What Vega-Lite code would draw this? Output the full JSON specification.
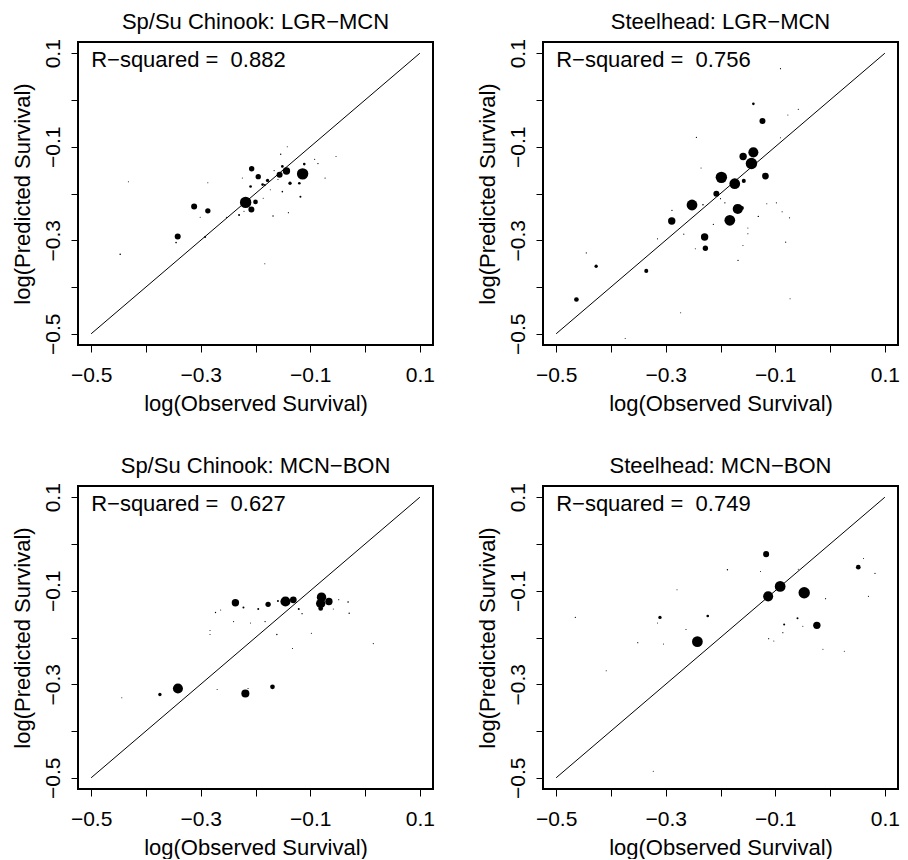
{
  "$schema": "https://vega.github.io/schema/vega-lite/v6.json",
  "background": "white",
  "padding": {"left": 10, "top": 9, "right": 0, "bottom": 0},
  "datasets": {
    "diag": [{"obs": -0.5, "pred": -0.5}, {"obs": 0.1, "pred": 0.1}],
    "p1": [
      {"obs": -0.114, "pred": -0.158, "w": 1.0},
      {"obs": -0.218, "pred": -0.219, "w": 1.0},
      {"obs": -0.1435, "pred": -0.152, "w": 0.42},
      {"obs": -0.156, "pred": -0.160, "w": 0.28},
      {"obs": -0.207, "pred": -0.147, "w": 0.22},
      {"obs": -0.195, "pred": -0.164, "w": 0.22},
      {"obs": -0.200, "pred": -0.218, "w": 0.17},
      {"obs": -0.2075, "pred": -0.234, "w": 0.28},
      {"obs": -0.312, "pred": -0.228, "w": 0.28},
      {"obs": -0.287, "pred": -0.237, "w": 0.22},
      {"obs": -0.342, "pred": -0.292, "w": 0.28},
      {"obs": -0.137, "pred": -0.178, "w": 0.087},
      {"obs": -0.120, "pred": -0.178, "w": 0.055},
      {"obs": -0.111, "pred": -0.137, "w": 0.055},
      {"obs": -0.151, "pred": -0.142, "w": 0.055},
      {"obs": -0.178, "pred": -0.172, "w": 0.087},
      {"obs": -0.187, "pred": -0.181, "w": 0.055},
      {"obs": -0.183, "pred": -0.182, "w": 0.031},
      {"obs": -0.209, "pred": -0.185, "w": 0.055},
      {"obs": -0.118, "pred": -0.207, "w": 0.031},
      {"obs": -0.151, "pred": -0.196, "w": 0.02},
      {"obs": -0.230, "pred": -0.246, "w": 0.031},
      {"obs": -0.292, "pred": -0.293, "w": 0.031},
      {"obs": -0.447, "pred": -0.330, "w": 0.02},
      {"obs": -0.345, "pred": -0.305, "w": 0.02},
      {"obs": -0.154, "pred": -0.116, "w": 0.015},
      {"obs": -0.086, "pred": -0.136, "w": 0.015},
      {"obs": -0.092, "pred": -0.127, "w": 0.01},
      {"obs": -0.142, "pred": -0.100, "w": 0.008},
      {"obs": -0.053, "pred": -0.121, "w": 0.008},
      {"obs": -0.073, "pred": -0.167, "w": 0.01},
      {"obs": -0.432, "pred": -0.175, "w": 0.008},
      {"obs": -0.287, "pred": -0.177, "w": 0.008},
      {"obs": -0.168, "pred": -0.248, "w": 0.015},
      {"obs": -0.140, "pred": -0.241, "w": 0.01},
      {"obs": -0.183, "pred": -0.350, "w": 0.008},
      {"obs": -0.301, "pred": -0.251, "w": 0.008},
      {"obs": -0.253, "pred": -0.251, "w": 0.01},
      {"obs": -0.224, "pred": -0.167, "w": 0.008},
      {"obs": -0.173, "pred": -0.192, "w": 0.008},
      {"obs": -0.159, "pred": -0.170, "w": 0.01},
      {"obs": -0.166, "pred": -0.151, "w": 0.01},
      {"obs": -0.186, "pred": -0.210, "w": 0.008},
      {"obs": -0.221, "pred": -0.238, "w": 0.01}
    ],
    "p2": [
      {"obs": -0.140, "pred": -0.112, "w": 0.78},
      {"obs": -0.1435, "pred": -0.136, "w": 1.0},
      {"obs": -0.1587, "pred": -0.121, "w": 0.42},
      {"obs": -0.1234, "pred": -0.045, "w": 0.28},
      {"obs": -0.1984, "pred": -0.1655, "w": 1.0},
      {"obs": -0.174, "pred": -0.179, "w": 0.89},
      {"obs": -0.118, "pred": -0.1626, "w": 0.35},
      {"obs": -0.1575, "pred": -0.173, "w": 0.125},
      {"obs": -0.2075, "pred": -0.2004, "w": 0.28},
      {"obs": -0.252, "pred": -0.2246, "w": 0.89},
      {"obs": -0.1685, "pred": -0.233, "w": 0.78},
      {"obs": -0.161, "pred": -0.231, "w": 0.125},
      {"obs": -0.183, "pred": -0.2573, "w": 0.89},
      {"obs": -0.289, "pred": -0.2587, "w": 0.42},
      {"obs": -0.229, "pred": -0.293, "w": 0.42},
      {"obs": -0.2276, "pred": -0.317, "w": 0.22},
      {"obs": -0.3355, "pred": -0.3655, "w": 0.125},
      {"obs": -0.427, "pred": -0.3555, "w": 0.087},
      {"obs": -0.463, "pred": -0.4267, "w": 0.17},
      {"obs": -0.140, "pred": -0.0082, "w": 0.055},
      {"obs": -0.0905, "pred": 0.067, "w": 0.01},
      {"obs": -0.058, "pred": -0.020, "w": 0.01},
      {"obs": -0.077, "pred": -0.032, "w": 0.008},
      {"obs": -0.0905, "pred": -0.081, "w": 0.008},
      {"obs": -0.244, "pred": -0.080, "w": 0.01},
      {"obs": -0.2355, "pred": -0.1456, "w": 0.008},
      {"obs": -0.1155, "pred": -0.222, "w": 0.008},
      {"obs": -0.098, "pred": -0.220, "w": 0.01},
      {"obs": -0.0875, "pred": -0.239, "w": 0.01},
      {"obs": -0.074, "pred": -0.252, "w": 0.01},
      {"obs": -0.131, "pred": -0.249, "w": 0.015},
      {"obs": -0.081, "pred": -0.304, "w": 0.01},
      {"obs": -0.073, "pred": -0.425, "w": 0.008},
      {"obs": -0.150, "pred": -0.274, "w": 0.008},
      {"obs": -0.150, "pred": -0.286, "w": 0.01},
      {"obs": -0.168, "pred": -0.343, "w": 0.015},
      {"obs": -0.213, "pred": -0.266, "w": 0.015},
      {"obs": -0.232, "pred": -0.224, "w": 0.02},
      {"obs": -0.192, "pred": -0.220, "w": 0.015},
      {"obs": -0.200, "pred": -0.211, "w": 0.01},
      {"obs": -0.2886, "pred": -0.236, "w": 0.015},
      {"obs": -0.267, "pred": -0.287, "w": 0.01},
      {"obs": -0.315, "pred": -0.297, "w": 0.01},
      {"obs": -0.445, "pred": -0.327, "w": 0.01},
      {"obs": -0.2727, "pred": -0.455, "w": 0.008},
      {"obs": -0.374, "pred": -0.510, "w": 0.008},
      {"obs": -0.159, "pred": -0.311, "w": 0.008},
      {"obs": -0.246, "pred": -0.318, "w": 0.008}
    ],
    "p3": [
      {"obs": -0.0795, "pred": -0.1137, "w": 0.68},
      {"obs": -0.081, "pred": -0.1272, "w": 0.68},
      {"obs": -0.066, "pred": -0.123, "w": 0.42},
      {"obs": -0.1453, "pred": -0.123, "w": 0.78},
      {"obs": -0.131, "pred": -0.1194, "w": 0.35},
      {"obs": -0.081, "pred": -0.138, "w": 0.17},
      {"obs": -0.2367, "pred": -0.1258, "w": 0.42},
      {"obs": -0.177, "pred": -0.129, "w": 0.22},
      {"obs": -0.3416, "pred": -0.309, "w": 0.78},
      {"obs": -0.2185, "pred": -0.3197, "w": 0.5},
      {"obs": -0.169, "pred": -0.3054, "w": 0.17},
      {"obs": -0.3745, "pred": -0.3218, "w": 0.087},
      {"obs": -0.222, "pred": -0.136, "w": 0.031},
      {"obs": -0.195, "pred": -0.139, "w": 0.031},
      {"obs": -0.159, "pred": -0.122, "w": 0.031},
      {"obs": -0.121, "pred": -0.139, "w": 0.031},
      {"obs": -0.115, "pred": -0.149, "w": 0.015},
      {"obs": -0.031, "pred": -0.124, "w": 0.02},
      {"obs": -0.029, "pred": -0.148, "w": 0.015},
      {"obs": -0.273, "pred": -0.1465, "w": 0.015},
      {"obs": -0.2636, "pred": -0.141, "w": 0.008},
      {"obs": -0.240, "pred": -0.166, "w": 0.01},
      {"obs": -0.209, "pred": -0.169, "w": 0.008},
      {"obs": -0.1825, "pred": -0.166, "w": 0.015},
      {"obs": -0.161, "pred": -0.1935, "w": 0.015},
      {"obs": -0.1325, "pred": -0.2235, "w": 0.01},
      {"obs": -0.098, "pred": -0.191, "w": 0.01},
      {"obs": 0.015, "pred": -0.213, "w": 0.01},
      {"obs": -0.283, "pred": -0.185, "w": 0.008},
      {"obs": -0.283, "pred": -0.1935, "w": 0.008},
      {"obs": -0.270, "pred": -0.311, "w": 0.008},
      {"obs": -0.444, "pred": -0.329, "w": 0.008},
      {"obs": -0.058, "pred": -0.139, "w": 0.008},
      {"obs": -0.048, "pred": -0.119, "w": 0.008},
      {"obs": -0.2136, "pred": -0.309, "w": 0.01}
    ],
    "p4": [
      {"obs": -0.0911, "pred": -0.0907, "w": 0.89},
      {"obs": -0.113, "pred": -0.112, "w": 0.78},
      {"obs": -0.0472, "pred": -0.1043, "w": 1.0},
      {"obs": -0.2422, "pred": -0.2089, "w": 0.89},
      {"obs": -0.0241, "pred": -0.174, "w": 0.42},
      {"obs": -0.1167, "pred": -0.0217, "w": 0.28},
      {"obs": 0.0515, "pred": -0.0495, "w": 0.17},
      {"obs": -0.3105, "pred": -0.157, "w": 0.087},
      {"obs": -0.2233, "pred": -0.154, "w": 0.055},
      {"obs": -0.0838, "pred": -0.172, "w": 0.031},
      {"obs": -0.0594, "pred": -0.159, "w": 0.031},
      {"obs": -0.1874, "pred": -0.055, "w": 0.015},
      {"obs": 0.082, "pred": -0.063, "w": 0.01},
      {"obs": 0.070, "pred": -0.112, "w": 0.01},
      {"obs": 0.061, "pred": -0.031, "w": 0.008},
      {"obs": -0.0082, "pred": -0.117, "w": 0.01},
      {"obs": -0.058, "pred": -0.054, "w": 0.008},
      {"obs": -0.127, "pred": -0.059, "w": 0.008},
      {"obs": -0.2794, "pred": -0.098, "w": 0.008},
      {"obs": -0.465, "pred": -0.157, "w": 0.01},
      {"obs": -0.351, "pred": -0.211, "w": 0.01},
      {"obs": -0.304, "pred": -0.214, "w": 0.008},
      {"obs": -0.263, "pred": -0.183, "w": 0.01},
      {"obs": -0.315, "pred": -0.169, "w": 0.008},
      {"obs": -0.112, "pred": -0.2025, "w": 0.01},
      {"obs": -0.1027, "pred": -0.2075, "w": 0.008},
      {"obs": -0.0862, "pred": -0.1897, "w": 0.01},
      {"obs": -0.0497, "pred": -0.176, "w": 0.008},
      {"obs": -0.013, "pred": -0.225, "w": 0.008},
      {"obs": 0.026, "pred": -0.2295, "w": 0.008},
      {"obs": -0.4086, "pred": -0.271, "w": 0.008},
      {"obs": -0.3227, "pred": -0.486, "w": 0.008}
    ]
  },
  "vconcat": [
    {
      "hconcat": [
        {
          "width": 355, "height": 303,
          "title": "Sp/Su Chinook: LGR−MCN",
          "layer": [
            {"data": {"name": "diag"}, "mark": {"type": "line", "color": "black", "strokeWidth": 1},
             "encoding": {
               "x": {"field": "obs", "type": "quantitative", "scale": {"domain": [-0.524, 0.124], "nice": false, "zero": false}, "axis": {"title": "log(Observed Survival)", "values": [-0.5, -0.4, -0.3, -0.2, -0.1, 0, 0.1], "labelExpr": "(round(datum.value*10)+5)%2==0 ? format(datum.value,'.1f') : ''"}},
               "y": {"field": "pred", "type": "quantitative", "scale": {"domain": [-0.524, 0.124], "nice": false, "zero": false}, "axis": {"title": "log(Predicted Survival)", "values": [-0.5, -0.4, -0.3, -0.2, -0.1, 0, 0.1], "labelExpr": "(round(datum.value*10)+5)%2==0 ? format(datum.value,'.1f') : ''"}}
             }},
            {"data": {"name": "p1"}, "mark": {"type": "circle", "color": "black", "opacity": 1},
             "encoding": {
               "x": {"field": "obs", "type": "quantitative"},
               "y": {"field": "pred", "type": "quantitative"},
               "size": {"field": "w", "type": "quantitative", "scale": {"domain": [0, 1], "range": [0, 130]}, "legend": null}
             }},
            {"data": {"values": [{"label": "R−squared = \u00a00.882"}]}, "mark": {"type": "text", "align": "left", "baseline": "middle", "fontSize": 22, "font": "Liberation Sans", "color": "black"},
             "encoding": {"x": {"datum": -0.5, "type": "quantitative"}, "y": {"datum": 0.086, "type": "quantitative"}, "text": {"field": "label"}}}
          ]
        },
        {
          "width": 355, "height": 303,
          "title": "Steelhead: LGR−MCN",
          "layer": [
            {"data": {"name": "diag"}, "mark": {"type": "line", "color": "black", "strokeWidth": 1},
             "encoding": {
               "x": {"field": "obs", "type": "quantitative", "scale": {"domain": [-0.524, 0.124], "nice": false, "zero": false}, "axis": {"title": "log(Observed Survival)", "values": [-0.5, -0.4, -0.3, -0.2, -0.1, 0, 0.1], "labelExpr": "(round(datum.value*10)+5)%2==0 ? format(datum.value,'.1f') : ''"}},
               "y": {"field": "pred", "type": "quantitative", "scale": {"domain": [-0.524, 0.124], "nice": false, "zero": false}, "axis": {"title": "log(Predicted Survival)", "values": [-0.5, -0.4, -0.3, -0.2, -0.1, 0, 0.1], "labelExpr": "(round(datum.value*10)+5)%2==0 ? format(datum.value,'.1f') : ''"}}
             }},
            {"data": {"name": "p2"}, "mark": {"type": "circle", "color": "black", "opacity": 1},
             "encoding": {
               "x": {"field": "obs", "type": "quantitative"},
               "y": {"field": "pred", "type": "quantitative"},
               "size": {"field": "w", "type": "quantitative", "scale": {"domain": [0, 1], "range": [0, 130]}, "legend": null}
             }},
            {"data": {"values": [{"label": "R−squared = \u00a00.756"}]}, "mark": {"type": "text", "align": "left", "baseline": "middle", "fontSize": 22, "font": "Liberation Sans", "color": "black"},
             "encoding": {"x": {"datum": -0.5, "type": "quantitative"}, "y": {"datum": 0.086, "type": "quantitative"}, "text": {"field": "label"}}}
          ]
        }
      ]
    },
    {
      "hconcat": [
        {
          "width": 355, "height": 303,
          "title": "Sp/Su Chinook: MCN−BON",
          "layer": [
            {"data": {"name": "diag"}, "mark": {"type": "line", "color": "black", "strokeWidth": 1},
             "encoding": {
               "x": {"field": "obs", "type": "quantitative", "scale": {"domain": [-0.524, 0.124], "nice": false, "zero": false}, "axis": {"title": "log(Observed Survival)", "values": [-0.5, -0.4, -0.3, -0.2, -0.1, 0, 0.1], "labelExpr": "(round(datum.value*10)+5)%2==0 ? format(datum.value,'.1f') : ''"}},
               "y": {"field": "pred", "type": "quantitative", "scale": {"domain": [-0.524, 0.124], "nice": false, "zero": false}, "axis": {"title": "log(Predicted Survival)", "values": [-0.5, -0.4, -0.3, -0.2, -0.1, 0, 0.1], "labelExpr": "(round(datum.value*10)+5)%2==0 ? format(datum.value,'.1f') : ''"}}
             }},
            {"data": {"name": "p3"}, "mark": {"type": "circle", "color": "black", "opacity": 1},
             "encoding": {
               "x": {"field": "obs", "type": "quantitative"},
               "y": {"field": "pred", "type": "quantitative"},
               "size": {"field": "w", "type": "quantitative", "scale": {"domain": [0, 1], "range": [0, 130]}, "legend": null}
             }},
            {"data": {"values": [{"label": "R−squared = \u00a00.627"}]}, "mark": {"type": "text", "align": "left", "baseline": "middle", "fontSize": 22, "font": "Liberation Sans", "color": "black"},
             "encoding": {"x": {"datum": -0.5, "type": "quantitative"}, "y": {"datum": 0.086, "type": "quantitative"}, "text": {"field": "label"}}}
          ]
        },
        {
          "width": 355, "height": 303,
          "title": "Steelhead: MCN−BON",
          "layer": [
            {"data": {"name": "diag"}, "mark": {"type": "line", "color": "black", "strokeWidth": 1},
             "encoding": {
               "x": {"field": "obs", "type": "quantitative", "scale": {"domain": [-0.524, 0.124], "nice": false, "zero": false}, "axis": {"title": "log(Observed Survival)", "values": [-0.5, -0.4, -0.3, -0.2, -0.1, 0, 0.1], "labelExpr": "(round(datum.value*10)+5)%2==0 ? format(datum.value,'.1f') : ''"}},
               "y": {"field": "pred", "type": "quantitative", "scale": {"domain": [-0.524, 0.124], "nice": false, "zero": false}, "axis": {"title": "log(Predicted Survival)", "values": [-0.5, -0.4, -0.3, -0.2, -0.1, 0, 0.1], "labelExpr": "(round(datum.value*10)+5)%2==0 ? format(datum.value,'.1f') : ''"}}
             }},
            {"data": {"name": "p4"}, "mark": {"type": "circle", "color": "black", "opacity": 1},
             "encoding": {
               "x": {"field": "obs", "type": "quantitative"},
               "y": {"field": "pred", "type": "quantitative"},
               "size": {"field": "w", "type": "quantitative", "scale": {"domain": [0, 1], "range": [0, 130]}, "legend": null}
             }},
            {"data": {"values": [{"label": "R−squared = \u00a00.749"}]}, "mark": {"type": "text", "align": "left", "baseline": "middle", "fontSize": 22, "font": "Liberation Sans", "color": "black"},
             "encoding": {"x": {"datum": -0.5, "type": "quantitative"}, "y": {"datum": 0.086, "type": "quantitative"}, "text": {"field": "label"}}}
          ]
        }
      ],
      "spacing": 39
    }
  ],
  "spacing": 38,
  "config": {
    "font": "Liberation Sans",
    "view": {"stroke": "black", "strokeWidth": 2},
    "concat": {"spacing": 39},
    "title": {"fontSize": 22, "fontWeight": "normal", "font": "Liberation Sans", "color": "black", "offset": 5, "anchor": "middle"},
    "axis": {
      "domain": false, "grid": false,
      "tickColor": "black", "tickSize": 7, "tickWidth": 1,
      "labelFont": "Liberation Sans", "labelFontSize": 21, "labelColor": "black",
      "labelFlush": false, "labelOverlap": false,
      "titleFont": "Liberation Sans", "titleFontSize": 22, "titleFontWeight": "normal", "titleColor": "black"
    },
    "axisX": {"labelPadding": 12, "labelBaseline": "top", "titlePadding": 8},
    "axisY": {"labelAngle": -90, "labelAlign": "center", "labelBaseline": "alphabetic", "labelPadding": 12, "titlePadding": 8}
  }
}
